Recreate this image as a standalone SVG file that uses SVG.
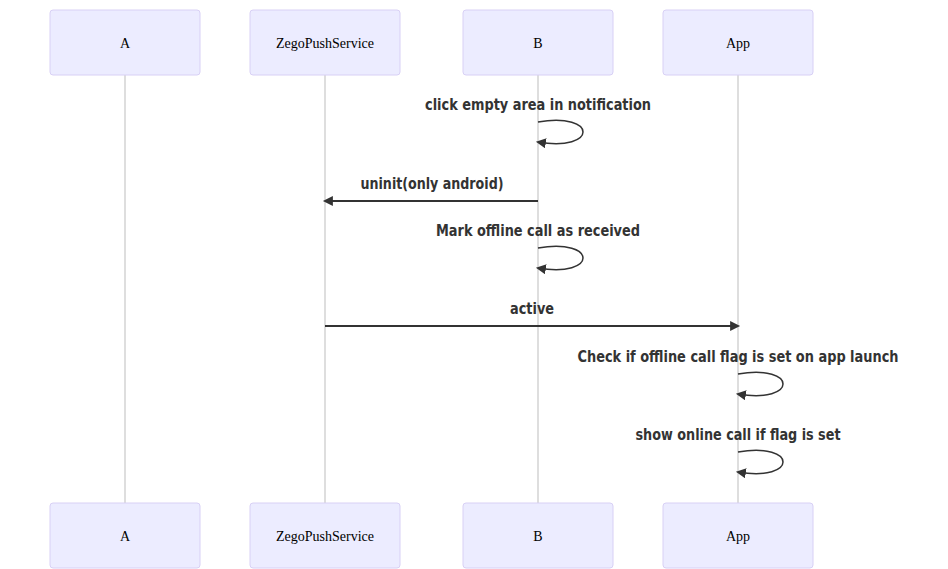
<svg xmlns="http://www.w3.org/2000/svg" width="948" height="569" viewBox="0 0 948 569">
<style>
.actor{fill:#ECECFF;stroke:#d8d0f5;stroke-width:1}
.atext{font-family:"Liberation Serif",serif;font-size:14px;fill:#000;text-anchor:middle;dominant-baseline:central}
.life{stroke:#d3d3d3;stroke-width:1.5}
.msg{stroke:#333;stroke-width:2;fill:none}
.loop{stroke:#333;stroke-width:1.5;fill:none}
.mtext{font-family:"DejaVu Sans Condensed","DejaVu Sans",sans-serif;font-size:16px;fill:#333;text-anchor:middle;dominant-baseline:central;font-weight:600}
</style>
<defs>
<marker id="arrow" viewBox="0 0 12 12" refX="7.9" refY="5" markerUnits="userSpaceOnUse" markerWidth="12" markerHeight="12" orient="auto">
<path d="M 0 0 L 10 5 L 0 10 z" fill="#333"/>
</marker>
</defs>
<rect width="948" height="569" fill="#fff"/>
<g id="lifelines">
<line class="life" x1="125" y1="75" x2="125" y2="503"/>
<line class="life" x1="325" y1="75" x2="325" y2="503"/>
<line class="life" x1="538" y1="75" x2="538" y2="503"/>
<line class="life" x1="738" y1="75" x2="738" y2="503"/>
</g>
<g id="actor-A-top"><rect class="actor" x="50" y="10" width="150" height="65" rx="3"/><text class="atext" x="125" y="43">A</text></g>
<g id="actor-Z-top"><rect class="actor" x="250" y="10" width="150" height="65" rx="3"/><text class="atext" x="325" y="43">ZegoPushService</text></g>
<g id="actor-B-top"><rect class="actor" x="463" y="10" width="150" height="65" rx="3"/><text class="atext" x="538" y="43">B</text></g>
<g id="actor-App-top"><rect class="actor" x="663" y="10" width="150" height="65" rx="3"/><text class="atext" x="738" y="43">App</text></g>
<g id="actor-A-bottom"><rect class="actor" x="50" y="503" width="150" height="65" rx="3"/><text class="atext" x="125" y="536">A</text></g>
<g id="actor-Z-bottom"><rect class="actor" x="250" y="503" width="150" height="65" rx="3"/><text class="atext" x="325" y="536">ZegoPushService</text></g>
<g id="actor-B-bottom"><rect class="actor" x="463" y="503" width="150" height="65" rx="3"/><text class="atext" x="538" y="536">B</text></g>
<g id="actor-App-bottom"><rect class="actor" x="663" y="503" width="150" height="65" rx="3"/><text class="atext" x="738" y="536">App</text></g>
<g id="connectors">
<text class="mtext" x="538" y="104" textLength="226" lengthAdjust="spacingAndGlyphs">click empty area in notification</text>
<path class="loop" d="M 538,122 C 598,112 598,152 538,142" marker-end="url(#arrow)"/>
<text class="mtext" x="432" y="183" textLength="143" lengthAdjust="spacingAndGlyphs">uninit(only android)</text>
<line class="msg" x1="538" y1="201" x2="325" y2="201" marker-end="url(#arrow)"/>
<text class="mtext" x="538" y="230" textLength="204" lengthAdjust="spacingAndGlyphs">Mark offline call as received</text>
<path class="loop" d="M 538,248 C 598,238 598,278 538,268" marker-end="url(#arrow)"/>
<text class="mtext" x="532" y="308" textLength="44" lengthAdjust="spacingAndGlyphs">active</text>
<line class="msg" x1="325" y1="326" x2="738" y2="326" marker-end="url(#arrow)"/>
<text class="mtext" x="738" y="356" textLength="321" lengthAdjust="spacingAndGlyphs">Check if offline call flag is set on app launch</text>
<path class="loop" d="M 738,374 C 798,364 798,404 738,394" marker-end="url(#arrow)"/>
<text class="mtext" x="738" y="434" textLength="205" lengthAdjust="spacingAndGlyphs">show online call if flag is set</text>
<path class="loop" d="M 738,452 C 798,442 798,482 738,472" marker-end="url(#arrow)"/>
</g>
</svg>
